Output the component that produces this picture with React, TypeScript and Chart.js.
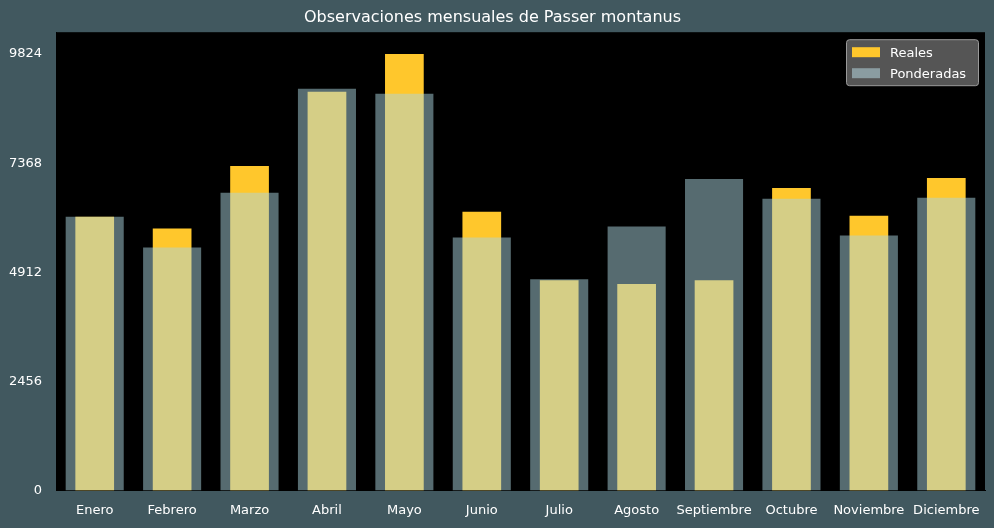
import React, { useEffect, useRef } from "react";
import { Chart, registerables } from "chart.js";
Chart.register(...registerables);

const categories = ["Enero","Febrero","Marzo","Abril","Mayo","Junio","Julio","Agosto","Septiembre","Octubre","Noviembre","Diciembre"];
const reales = [6163,5895,7302,8977,9824,6275,4734,4645,4734,6811,6185,7034];
const ponderadas = [6163,5471,6699,9044,8932,5694,4756,5940,7012,6565,5739,6588];
const yTicks = [0,2456,4912,7368,9824];
const seriesNames = ["Reales", "Ponderadas"];
const legendColors = ["#ffc72c", "#8a9ca1"];

export default function App() {
  const ref = useRef<HTMLCanvasElement>(null);
  useEffect(() => {
    document.body.style.margin = "0";
    document.body.style.background = "#41585f";
    const bg = {
      id: "bg",
      beforeDraw(chart: any) {
        const { ctx, chartArea: a } = chart;
        ctx.save();
        ctx.fillStyle = "#000";
        ctx.fillRect(a.left, a.top, a.right - a.left, a.bottom - a.top);
        ctx.restore();
      },
      afterDraw(chart: any) {
        const { ctx, chartArea: a } = chart;
        const w = 132, h = 46;
        const x = a.right - w - 7, y = a.top + 7;
        ctx.save();
        ctx.fillStyle = "#555555";
        ctx.strokeStyle = "#999";
        ctx.lineWidth = 1;
        ctx.beginPath();
        (ctx as any).roundRect(x + 0.5, y + 0.5, w, h, 3);
        ctx.fill();
        ctx.stroke();
        ctx.font = "13px 'DejaVu Sans'";
        ctx.textBaseline = "middle";
        seriesNames.forEach((n, i) => {
          const cy = y + 13 + i * 21;
          ctx.fillStyle = legendColors[i];
          ctx.fillRect(x + 6, cy - 5, 28, 10);
          ctx.fillStyle = "#fff";
          ctx.fillText(n, x + 44, cy + 1);
        });
        ctx.restore();
      },
    };
    const font = { family: "DejaVu Sans", size: 13 };
    const chart = new Chart(ref.current!, {
      type: "bar",
      data: {
        labels: categories,
        datasets: [
          { label: "Reales", data: reales, backgroundColor: "#ffc72c", barPercentage: 1, categoryPercentage: 0.5, grouped: false, order: 2 },
          { label: "Ponderadas", data: ponderadas, backgroundColor: "rgba(172,214,224,0.5)", barPercentage: 1, categoryPercentage: 0.75, grouped: false, order: 1 },
        ],
      },
      options: {
        animation: false,
        responsive: false,
        layout: { padding: { left: 0, right: 9, top: 0, bottom: 6 } },
        plugins: {
          title: { display: true, text: "Observaciones mensuales de Passer montanus", color: "#fff", font: { family: "DejaVu Sans", size: 16, weight: "normal" }, padding: { top: 8, bottom: 5 } },
          legend: { display: false },
          tooltip: { enabled: false },
        },
        scales: {
          x: {
            grid: { display: false },
            border: { color: "#000" },
            ticks: { color: "#fff", font, padding: 4, maxRotation: 0, minRotation: 0, autoSkip: false },
          },
          y: {
            min: 0,
            max: 10316,
            afterBuildTicks: (ax: any) => { ax.ticks = yTicks.map((v) => ({ value: v })); },
            afterFit: (ax: any) => { ax.width = 56; },
            grid: { display: false },
            border: { color: "#000" },
            ticks: { color: "#fff", font, padding: 6, callback: (v: any) => String(v) },
          },
        },
      },
      plugins: [bg],
    });
    return () => chart.destroy();
  }, []);
  return <canvas ref={ref} width={994} height={528} style={{ display: "block" }} />;
}
